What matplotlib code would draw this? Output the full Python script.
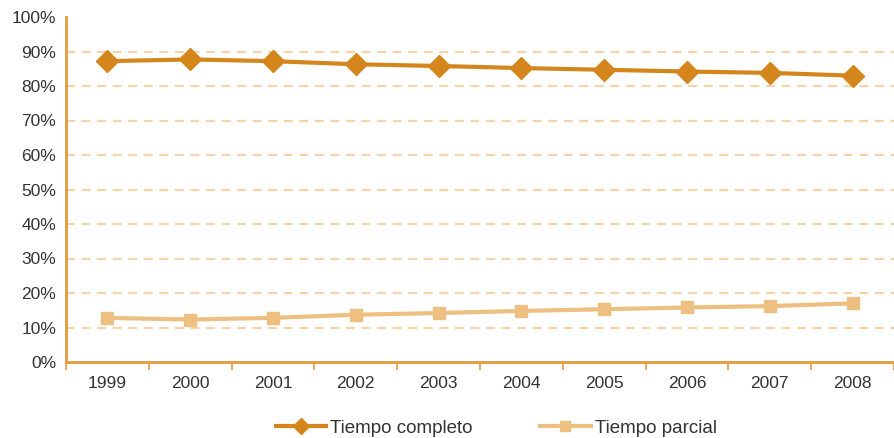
import matplotlib.pyplot as plt
from matplotlib.ticker import FixedLocator, PercentFormatter

# -------- data --------
years = ["1999", "2000", "2001", "2002", "2003", "2004", "2005", "2006", "2007", "2008"]
tiempo_completo = [87.2, 87.7, 87.2, 86.3, 85.8, 85.2, 84.7, 84.2, 83.8, 83.0]
tiempo_parcial = [12.8, 12.3, 12.8, 13.7, 14.2, 14.8, 15.3, 15.8, 16.2, 17.0]

DARK = "#D4861C"
LIGHT = "#EDBF80"
GRID = "#F6D3A8"
SPINE = "#E49A3A"
TEXT = "#333333"

plt.rcParams["font.family"] = ["Liberation Sans", "DejaVu Sans"]

fig = plt.figure(figsize=(8.94, 4.38), dpi=100)
ax = fig.add_axes([66 / 894, 1 - 362 / 438, 1 - 66 / 894, (362 - 17) / 438])

x = list(range(len(years)))

# grid lines 10..90
for v in range(10, 100, 10):
    ax.axhline(v, color=GRID, lw=1.6, ls=(0, (4, 3)), zorder=1)

ax.plot(x, tiempo_completo, color=DARK, lw=3, marker="D", ms=11,
        label="Tiempo completo", zorder=3)
ax.plot(x, tiempo_parcial, color=LIGHT, lw=3, marker="s", ms=9,
        label="Tiempo parcial", zorder=3)

ax.set_xlim(-0.5, len(years) - 0.5)
ax.set_ylim(0, 100)
ax.set_yticks(range(0, 101, 10))
ax.yaxis.set_major_formatter(PercentFormatter(decimals=0))
ax.set_xticks(x)
ax.set_xticklabels(years)
ax.xaxis.set_minor_locator(FixedLocator([i + 0.5 for i in range(-1, len(years))]))

for s in ["top", "right"]:
    ax.spines[s].set_visible(False)
for s in ["left", "bottom"]:
    ax.spines[s].set_color(SPINE)
    ax.spines[s].set_linewidth(2)

ax.tick_params(axis="x", which="major", length=0, pad=10, labelsize=12.5, labelcolor=TEXT)
ax.tick_params(axis="x", which="minor", length=6, width=1.2, color=SPINE)
ax.tick_params(axis="y", length=0, pad=7, labelsize=12.5, labelcolor=TEXT)

leg = fig.legend(loc="center", bbox_to_anchor=(0.555, 1 - 428 / 438), ncol=2,
                 frameon=False, fontsize=13.5, handlelength=2.7,
                 columnspacing=3.6, handletextpad=0.2, markerscale=0.75)
for t in leg.get_texts():
    t.set_color(TEXT)

fig.savefig("out.png", dpi=100)
